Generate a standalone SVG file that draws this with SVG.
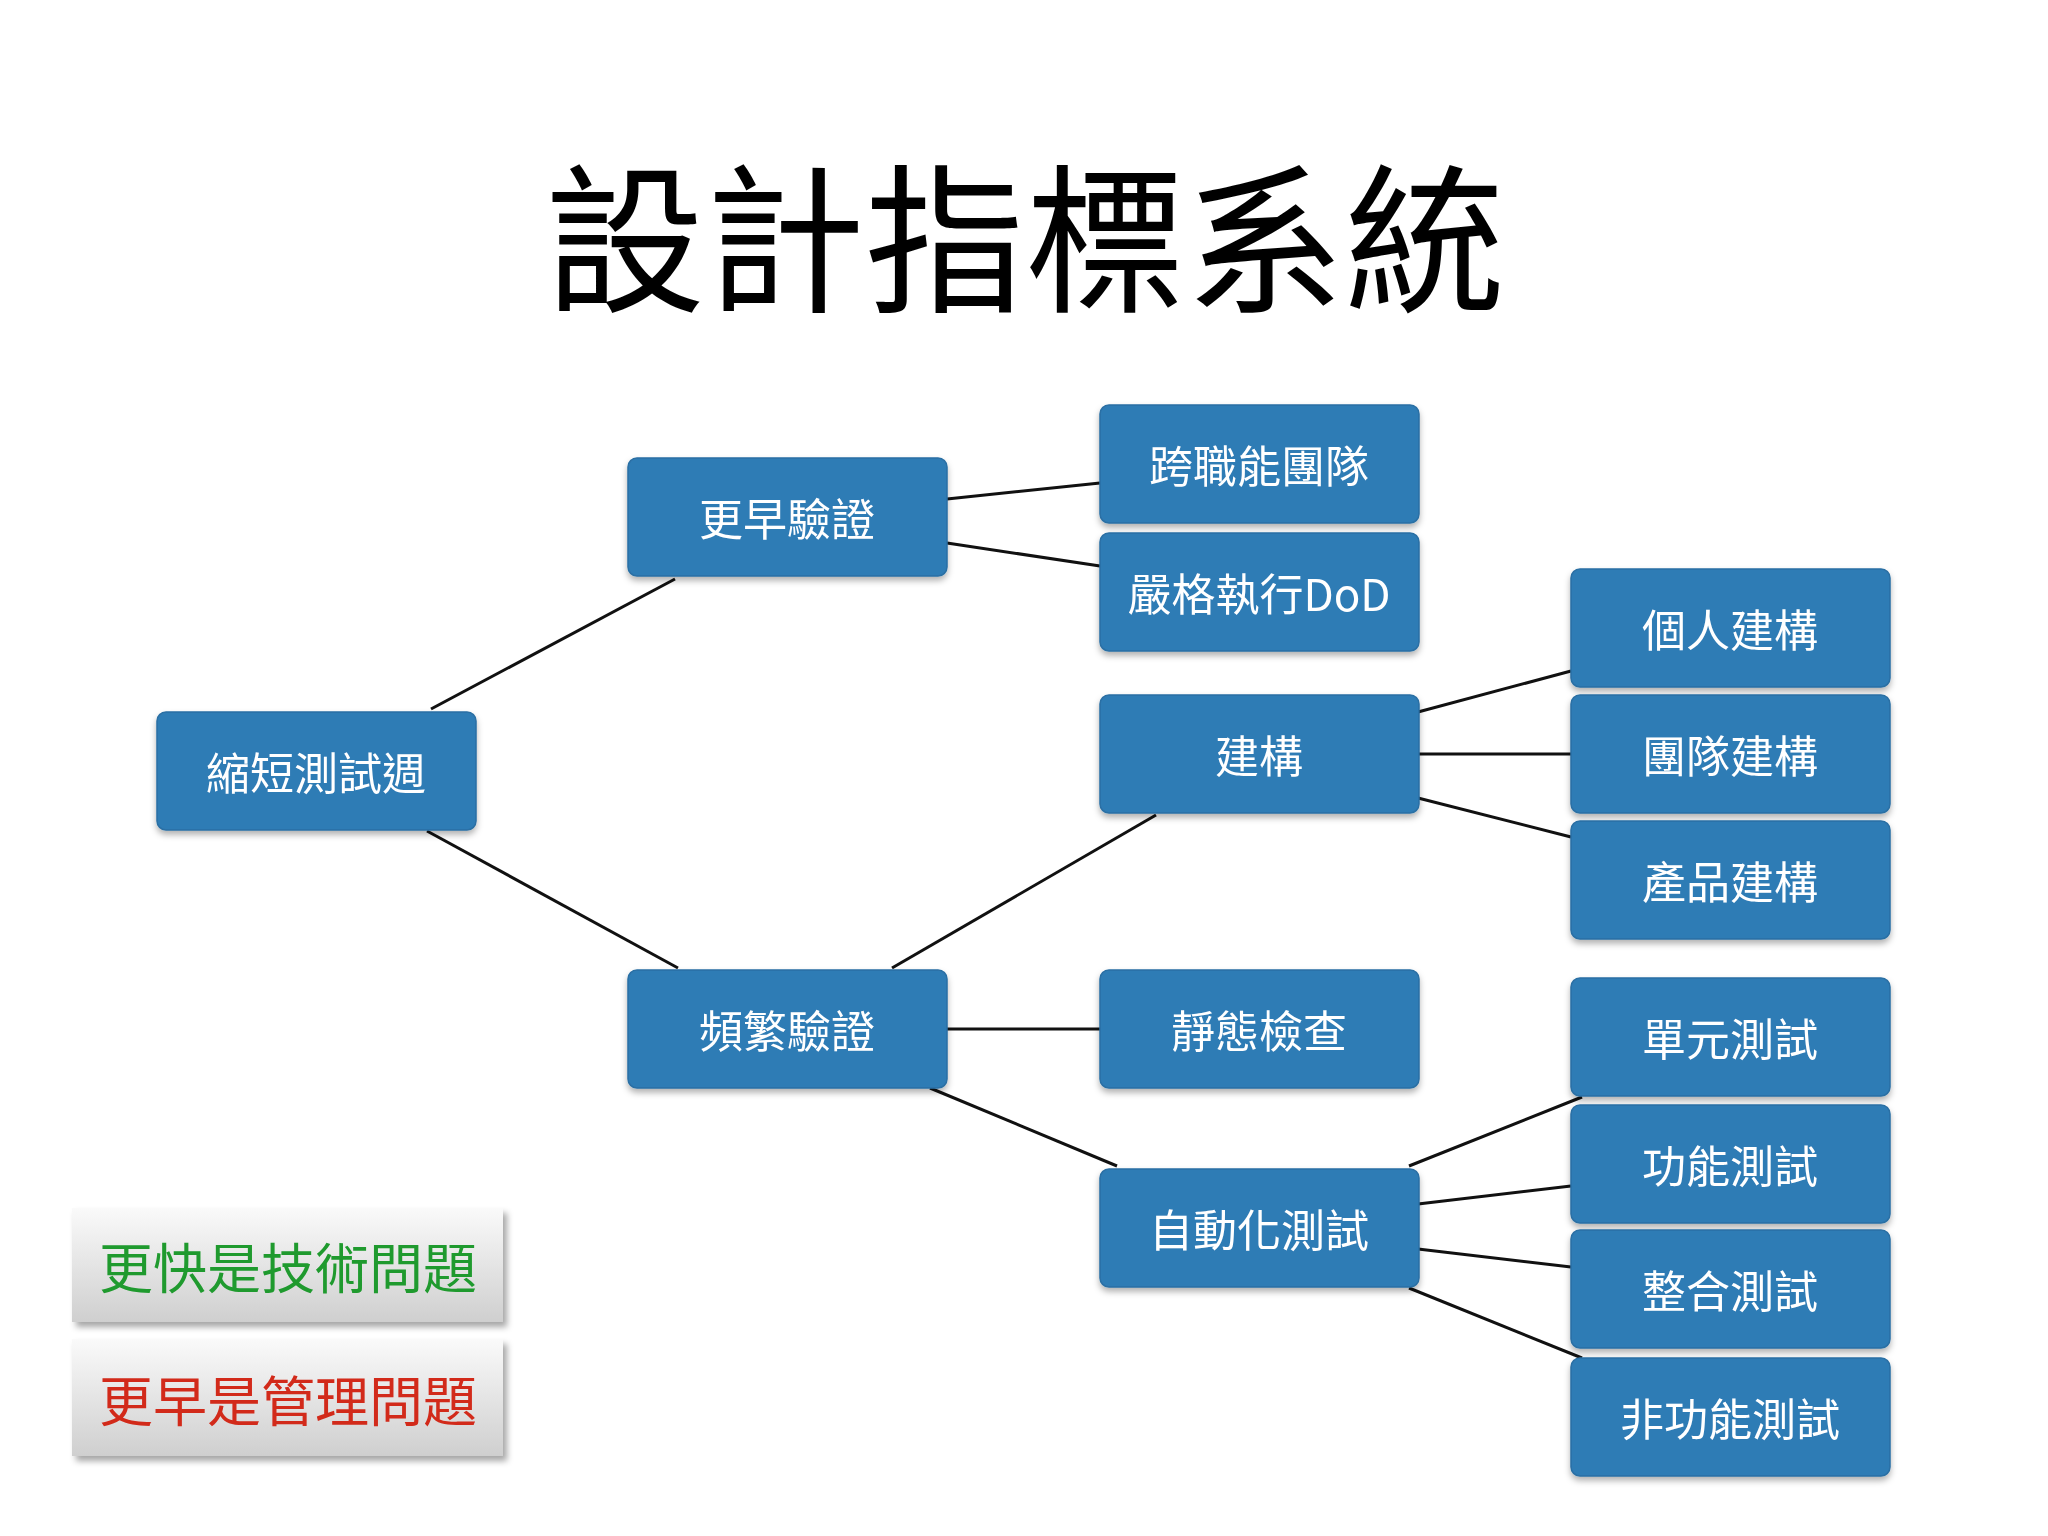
<svg xmlns="http://www.w3.org/2000/svg" width="2048" height="1536" viewBox="0 0 2048 1536">
<defs>
<style>
.n rect{fill:#2f7bb5;stroke:#2a6fa4;stroke-width:1.5}
.n text{fill:#fff;font-family:"Noto Sans CJK TC","Noto Sans",sans-serif;font-size:44px;text-anchor:middle;dominant-baseline:central}
.c line{stroke:#111;stroke-width:3}
.lg rect{fill:url(#g);filter:url(#s)}
.lg text{font-family:"Noto Sans CJK TC",sans-serif;font-size:54px;text-anchor:middle;dominant-baseline:central}
</style>
<linearGradient id="g" x1="0" y1="0" x2="0" y2="1"><stop offset="0" stop-color="#fafafa"/><stop offset="1" stop-color="#cfcfcf"/></linearGradient>
<filter id="s" x="-10%" y="-10%" width="130%" height="140%"><feDropShadow dx="4" dy="5" stdDeviation="3" flood-opacity="0.35"/></filter>
<filter id="ns" x="-10%" y="-10%" width="130%" height="140%"><feDropShadow dx="0" dy="4" stdDeviation="3" flood-opacity="0.3"/></filter>
</defs>
<rect width="2048" height="1536" fill="#fff"/>
<text x="1025" y="300" font-family="Noto Sans CJK TC,sans-serif" font-size="160" text-anchor="middle" fill="#000">設計指標系統</text>
<g class="c">
<line x1="431" y1="709" x2="675" y2="579"/>
<line x1="427" y1="831" x2="678" y2="968"/>
<line x1="947" y1="499" x2="1100" y2="483"/>
<line x1="947" y1="543" x2="1100" y2="566"/>
<line x1="892" y1="968" x2="1156" y2="815"/>
<line x1="947" y1="1029" x2="1100" y2="1029"/>
<line x1="930" y1="1088" x2="1117" y2="1166"/>
<line x1="1418" y1="712" x2="1571" y2="671"/>
<line x1="1418" y1="754" x2="1571" y2="754"/>
<line x1="1418" y1="798" x2="1571" y2="837"/>
<line x1="1409" y1="1166" x2="1582" y2="1097"/>
<line x1="1418" y1="1204" x2="1571" y2="1186"/>
<line x1="1418" y1="1249" x2="1571" y2="1267"/>
<line x1="1409" y1="1288" x2="1582" y2="1358"/>
</g>
<g filter="url(#ns)">
<g id="n1" class="n"><rect x="157" y="712" width="319" height="118" rx="9"/><text x="316" y="771">縮短測試週</text></g>
<g id="n2" class="n"><rect x="628" y="458" width="319" height="118" rx="9"/><text x="787" y="517">更早驗證</text></g>
<g id="n3" class="n"><rect x="628" y="970" width="319" height="118" rx="9"/><text x="787" y="1029">頻繁驗證</text></g>
<g id="n4" class="n"><rect x="1100" y="405" width="319" height="118" rx="9"/><text x="1259" y="464">跨職能團隊</text></g>
<g id="n5" class="n"><rect x="1100" y="533" width="319" height="118" rx="9"/><text x="1259" y="592">嚴格執行DoD</text></g>
<g id="n6" class="n"><rect x="1100" y="695" width="319" height="118" rx="9"/><text x="1259" y="754">建構</text></g>
<g id="n7" class="n"><rect x="1100" y="970" width="319" height="118" rx="9"/><text x="1259" y="1029">靜態檢查</text></g>
<g id="n8" class="n"><rect x="1100" y="1169" width="319" height="118" rx="9"/><text x="1259" y="1228">自動化測試</text></g>
<g id="n9" class="n"><rect x="1571" y="569" width="319" height="118" rx="9"/><text x="1730" y="628">個人建構</text></g>
<g id="n10" class="n"><rect x="1571" y="695" width="319" height="118" rx="9"/><text x="1730" y="754">團隊建構</text></g>
<g id="n11" class="n"><rect x="1571" y="821" width="319" height="118" rx="9"/><text x="1730" y="880">產品建構</text></g>
<g id="n12" class="n"><rect x="1571" y="978" width="319" height="118" rx="9"/><text x="1730" y="1037">單元測試</text></g>
<g id="n13" class="n"><rect x="1571" y="1105" width="319" height="118" rx="9"/><text x="1730" y="1164">功能測試</text></g>
<g id="n14" class="n"><rect x="1571" y="1230" width="319" height="118" rx="9"/><text x="1730" y="1289">整合測試</text></g>
<g id="n15" class="n"><rect x="1571" y="1358" width="319" height="118" rx="9"/><text x="1730" y="1417">非功能測試</text></g>
</g>
<g id="l1" class="lg"><rect x="72" y="1208" width="431" height="114"/><text x="288" y="1265" fill="#1f9a2e">更快是技術問題</text></g>
<g id="l2" class="lg"><rect x="72" y="1339" width="431" height="117"/><text x="288" y="1398" fill="#d22a1a">更早是管理問題</text></g>
</svg>
